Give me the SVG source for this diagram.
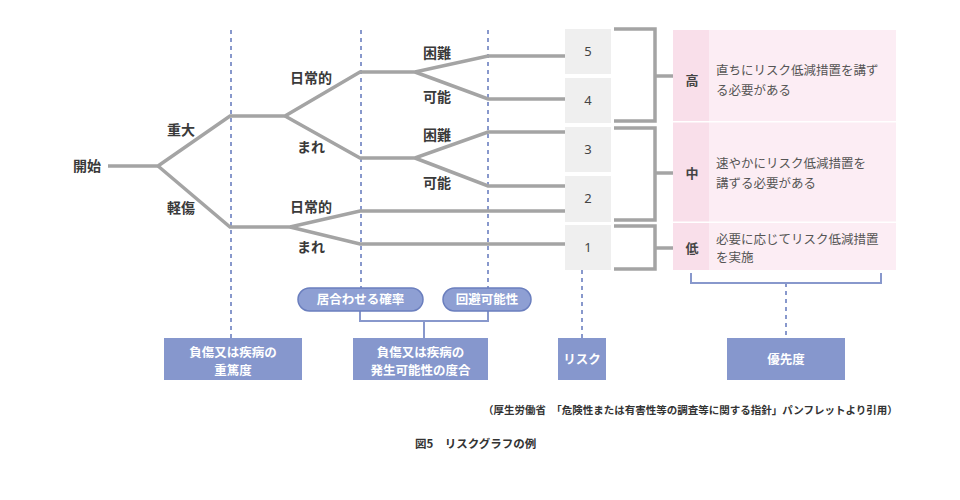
<svg xmlns="http://www.w3.org/2000/svg" width="960" height="500" viewBox="0 0 960 500">
<style>
.lbl{font-family:"Noto Sans CJK JP","Noto Sans",sans-serif;font-size:14px;font-weight:700;fill:#3a3a3a}
.num{font-family:"Noto Sans","Noto Sans CJK JP",sans-serif;font-size:13px;fill:#444;text-anchor:middle}
.desc{font-family:"Noto Sans CJK JP",sans-serif;font-size:12.5px;fill:#555}
.lvl{font-family:"Noto Sans CJK JP",sans-serif;font-size:13px;font-weight:700;fill:#444;text-anchor:middle}
.wt{font-family:"Noto Sans CJK JP",sans-serif;font-size:12.5px;font-weight:700;fill:#fff;text-anchor:middle}
.gl{fill:none;stroke:#a4a4a4;stroke-width:3.5;stroke-linejoin:miter}
.dash{fill:none;stroke:#8898cc;stroke-width:2;stroke-dasharray:4 4}
.bl{fill:none;stroke:#8898cc;stroke-width:2}
.box{fill:#8697cd}
.pill{fill:#8e9fd3;stroke:#6b7fbe;stroke-width:1.5}
.rb{fill:#efefef}
.foot{font-family:"Noto Sans CJK JP",sans-serif;font-weight:700;fill:#333}
</style>
<rect width="960" height="500" fill="#fff"/>

<g id="guides">
<line class="dash" x1="231" y1="30" x2="231" y2="338"/>
<line class="dash" x1="361" y1="30" x2="361" y2="288"/>
<line class="dash" x1="488" y1="30" x2="488" y2="288"/>
<line class="dash" x1="582" y1="270" x2="582" y2="338"/>
<line class="dash" x1="786" y1="283" x2="786" y2="338"/>
</g>

<g id="risk-boxes">
<rect class="rb" x="565" y="29" width="46" height="45"/>
<rect class="rb" x="565" y="78" width="46" height="45"/>
<rect class="rb" x="565" y="127" width="46" height="45"/>
<rect class="rb" x="565" y="176" width="46" height="46"/>
<rect class="rb" x="565" y="225" width="46" height="45"/>
<text class="num" x="588" y="56">5</text>
<text class="num" x="588" y="105">4</text>
<text class="num" x="588" y="154">3</text>
<text class="num" x="588" y="203">2</text>
<text class="num" x="588" y="252">1</text>
</g>

<g id="connectors">
<polyline class="gl" points="108,166 158,166 230,116 285,116 360,72 415,72 488,56 565,56"/>
<polyline class="gl" points="415,72 488,99 565,99"/>
<polyline class="gl" points="285,116 360,158 415,158 488,132 565,132"/>
<polyline class="gl" points="415,158 488,186 565,186"/>
<polyline class="gl" points="158,166 230,227 290,227 360,211 565,211"/>
<polyline class="gl" points="290,227 360,244 565,244"/>
<polyline class="gl" points="614,29 655,29 655,121 614,121"/>
<line class="gl" x1="655" y1="76" x2="673" y2="76"/>
<polyline class="gl" points="614,128 655,128 655,220 614,220"/>
<line class="gl" x1="655" y1="173" x2="673" y2="173"/>
<polyline class="gl" points="614,226 655,226 655,269 614,269"/>
<line class="gl" x1="655" y1="248" x2="673" y2="248"/>
<polyline class="bl" points="360,311 360,321 488,321 488,311"/>
<line class="bl" x1="424" y1="321" x2="424" y2="338"/>
<polyline class="bl" points="691,273 691,283 881,283 881,273"/>
</g>

<g id="labels">
<text class="lbl" x="73" y="171">開始</text>
<text class="lbl" x="167" y="135">重大</text>
<text class="lbl" x="167" y="213">軽傷</text>
<text class="lbl" x="290" y="83">日常的</text>
<text class="lbl" x="297" y="152">まれ</text>
<text class="lbl" x="290" y="212">日常的</text>
<text class="lbl" x="297" y="252">まれ</text>
<text class="lbl" x="423" y="58">困難</text>
<text class="lbl" x="423" y="102">可能</text>
<text class="lbl" x="423" y="140">困難</text>
<text class="lbl" x="423" y="188">可能</text>
</g>

<g id="priority-table">
<rect x="673" y="30" width="36" height="91" fill="#f9dfea"/>
<rect x="709" y="30" width="187" height="91" fill="#fcedf4"/>
<rect x="673" y="122.5" width="36" height="99" fill="#f9dfea"/>
<rect x="709" y="122.5" width="187" height="99" fill="#fcedf4"/>
<rect x="673" y="223" width="36" height="47" fill="#f9dfea"/>
<rect x="709" y="223" width="187" height="47" fill="#fcedf4"/>
<text class="lvl" x="692" y="85">高</text>
<text class="lvl" x="692" y="178">中</text>
<text class="lvl" x="692" y="253">低</text>
<text class="desc" x="716" y="75">直ちにリスク低減措置を講ず</text>
<text class="desc" x="716" y="95">る必要がある</text>
<text class="desc" x="716" y="168">速やかにリスク低減措置を</text>
<text class="desc" x="716" y="188">講ずる必要がある</text>
<text class="desc" x="716" y="244">必要に応じてリスク低減措置</text>
<text class="desc" x="716" y="262">を実施</text>
</g>

<g id="pill-probability">
<rect class="pill" x="298" y="288" width="125" height="23" rx="11.5"/>
<text class="wt" x="360.5" y="304">居合わせる確率</text>
</g>
<g id="pill-avoidance">
<rect class="pill" x="443" y="288" width="88" height="23" rx="11.5"/>
<text class="wt" x="487" y="304">回避可能性</text>
</g>

<g id="box-severity">
<rect class="box" x="164" y="338" width="138" height="42"/>
<text class="wt" x="233" y="356.5">負傷又は疾病の</text>
<text class="wt" x="233" y="374.5">重篤度</text>
</g>
<g id="box-likelihood">
<rect class="box" x="353" y="338" width="135" height="42"/>
<text class="wt" x="420.5" y="356.5">負傷又は疾病の</text>
<text class="wt" x="420.5" y="374.5">発生可能性の度合</text>
</g>
<g id="box-risk">
<rect class="box" x="558" y="338" width="48" height="42"/>
<text class="wt" x="582" y="364">リスク</text>
</g>
<g id="box-priority">
<rect class="box" x="727" y="338" width="118" height="42"/>
<text class="wt" x="786" y="364">優先度</text>
</g>

<g id="footer">
<text class="foot" x="483" y="414" font-size="10.5">（厚生労働省　「危険性または有害性等の調査等に関する指針」パンフレットより引用）</text>
<text class="foot" x="415" y="448" font-size="11.5">図5　リスクグラフの例</text>
</g>
</svg>
